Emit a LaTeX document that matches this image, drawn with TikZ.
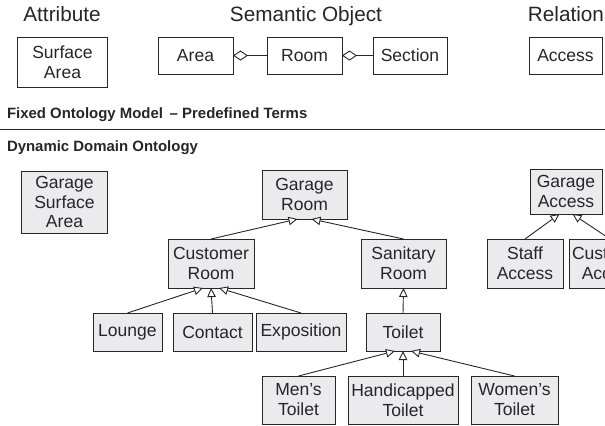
\documentclass[tikz,border=0pt]{standalone}
\usepackage{fontspec}
\setmainfont{Liberation Sans}
\usetikzlibrary{arrows.meta,calc}
\definecolor{ink}{HTML}{262626}
\definecolor{boxfill}{HTML}{EBEBEE}
\begin{document}
\begin{tikzpicture}[x=1bp,y=-1bp,
  every node/.style={text=ink, inner sep=0pt, outer sep=0pt},
  headlabel/.style={font=\fontsize{20.8}{24}\selectfont, anchor=base},
  parttitle/.style={font=\bfseries\fontsize{15}{18}\selectfont, anchor=base west},
  term/.style={draw=ink, line width=1bp, align=center, font=\fontsize{17.6}{20}\selectfont},
  concept/.style={term, fill=boxfill},
  isa/.style={draw=ink, line width=0.9bp, -{Triangle[length=9bp,width=8.5bp,fill=white]}},
  partof/.style={draw=ink, line width=0.9bp, -{Diamond[length=15bp,width=10bp,fill=white]}},
]
\useasboundingbox (0,0) rectangle (605,425);
\clip (0,0) rectangle (605,425);

% ---- fixed ontology model: predefined terms ----
\node[headlabel] (hattr) at (62,21) {Attribute};
\node[headlabel] (hsem)  at (306,21) {Semantic Object};
\node[headlabel] (hrel)  at (566,21) {Relation};

\node[term, minimum width=89bp, minimum height=50bp] (sa)      at (62.5,62)   {Surface\\Area};
\node[term, minimum width=75bp, minimum height=37bp] (area)    at (195.5,55.5) {Area};
\node[term, minimum width=75bp, minimum height=37bp] (room)    at (304.5,55.5) {Room};
\node[term, minimum width=74bp, minimum height=37bp] (section) at (410,55.5)   {Section};
\node[term, minimum width=73bp, minimum height=37bp] (access)  at (565.5,55.5) {Access};

\draw[partof] (room.west) -- (area.east);
\draw[partof] (section.west) -- (room.east);

\node[parttitle] (fixed) at (7,118) {Fixed Ontology Model \,– Predefined Terms};

% separator between the two parts
\coordinate (sepL) at (0,129.5);
\coordinate (sepR) at (605,129.5);
\draw[ink, line width=1.2bp] (sepL) -- (sepR);

\node[parttitle] (dynamic) at (7,151) {Dynamic Domain Ontology};

% ---- dynamic domain ontology ----
\node[concept, minimum width=85bp, minimum height=62bp] (gsa)     at (64.5,202)   {Garage\\Surface\\Area};
\node[concept, minimum width=85bp, minimum height=49bp] (groom)   at (304.5,194.5) {Garage\\Room};
\node[concept, minimum width=86bp, minimum height=49bp] (croom)   at (211,263.5)  {Customer\\Room};
\node[concept, minimum width=85bp, minimum height=49bp] (sroom)   at (403.5,263.5) {Sanitary\\Room};
\node[concept, minimum width=72bp, minimum height=45bp] (gaccess) at (566,191.5)  {Garage\\Access};
\node[concept, minimum width=76bp, minimum height=49bp] (staff)   at (525,263.5)  {Staff\\Access};
\node[concept, minimum width=82bp, minimum height=49bp] (caccess) at (610,263.5)  {Customer\\Access};

\node[concept, minimum width=69bp, minimum height=38bp] (lounge)  at (127.5,332) {Lounge};
\node[concept, minimum width=79bp, minimum height=38bp] (contact) at (212.5,332) {Contact};
\node[concept, minimum width=90bp, minimum height=38bp] (expo)    at (301,332)   {Exposition};
\node[concept, minimum width=74bp, minimum height=38bp] (toilet)  at (403,332)   {Toilet};

\node[concept, minimum width=73bp,  minimum height=48bp] (mens)   at (298.5,400) {Men’s\\Toilet};
\node[concept, minimum width=110bp, minimum height=48bp] (handi)  at (403,400)   {Handicapped\\Toilet};
\node[concept, minimum width=87bp,  minimum height=48bp] (womens) at (514.5,400) {Women’s\\Toilet};

% generalisation links
\draw[isa] (croom.north) -- ($(groom.south)+(-7,0)$);
\draw[isa] (sroom.north) -- ($(groom.south)+(7,0)$);

\draw[isa] (lounge.north)  -- ($(croom.south)+(-8,0)$);
\draw[isa] (contact.north) -- (croom.south);
\draw[isa] (expo.north)    -- ($(croom.south)+(8,0)$);

\draw[isa] (toilet.north) -- (sroom.south);

\draw[isa] (mens.north)   -- ($(toilet.south)+(-8,0)$);
\draw[isa] (handi.north)  -- (toilet.south);
\draw[isa] (womens.north) -- ($(toilet.south)+(8,0)$);

\draw[isa] (staff.north)   -- ($(gaccess.south)+(-6.5,0)$);
\draw[isa] (caccess.north) -- ($(gaccess.south)+(6.5,0)$);
\end{tikzpicture}
\end{document}
